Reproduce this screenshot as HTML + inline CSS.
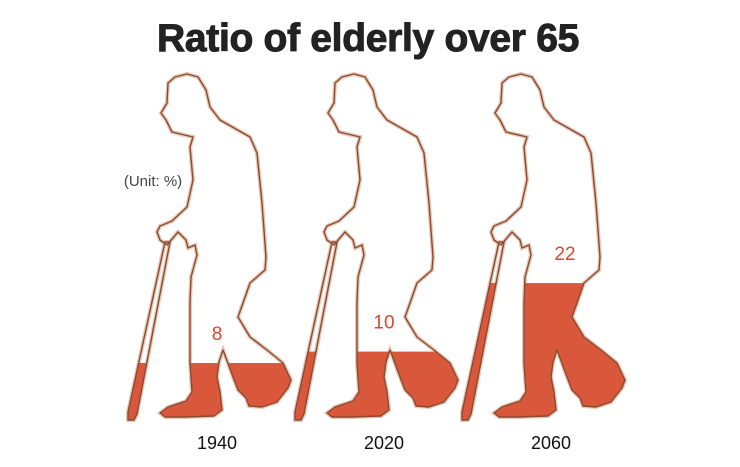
<!DOCTYPE html>
<html><head><meta charset="utf-8">
<style>
html,body{margin:0;padding:0;background:#fff;}
body{width:740px;height:462px;overflow:hidden;font-family:"Liberation Sans",sans-serif;}
</style></head>
<body>
<svg id="chart" width="740" height="462" viewBox="0 0 740 462">
<defs>
<path id="body" d="M168,83 L175,77 L187,74 L198,77 L206,90 L210,107 L220,120 L250,137 L257,153 L262,203 L266,257 L265,270 L250,283 L243,303 L238,317 L250,337 L267,350 L283,363 L291,380 L288,388 L277,402 L262,407 L249,406 L246,398 L238,390 L233,377 L226,358 L223,350 L219,362 L217,377 L220,392 L222,410 L214,416 L185,417 L165,417 L160,413 L168,407 L186,401 L192,392 L190,363 L190,303 L191,277 L197,255 L195,245 L188,248 L186,240 L178,232 L167,245 L160,240 L157,232 L160,226 L172,221 L187,207 L193,180 L190,147 L193,137 L172,132 L166,120 L161,113 L167,103 Z"/>
<path id="cane" d="M165,242 L170,242 L137,414 L134,420 L128,420 L128,412 Z"/>
</defs>
<text x="368" y="51" text-anchor="middle" font-size="39" font-weight="bold" fill="#222" stroke="#222" stroke-width="1" letter-spacing="-0.3">Ratio of elderly over 65</text>
<text x="153" y="186" text-anchor="middle" font-size="15" fill="#444">(Unit: %)</text>
<g id="figs"></g>
</svg>
<script>
const years = ['1940', '2020', '2060'];
const values = [8, 10, 22];

const svgNS = 'http://www.w3.org/2000/svg';
const g = document.getElementById('figs');
const baseY = 417;
function yScale(v){ return baseY - (8.3 + v * 5.71); }
function xOffset(i){ return i * 167; }

years.forEach((yr, i) => {
  const dx = xOffset(i);
  const fig = document.createElementNS(svgNS, 'g');
  fig.setAttribute('transform', 'translate(' + dx + ',0)');
  
  
  const cid = 'clip' + i;
  const cp = document.createElementNS(svgNS, 'clipPath');
  cp.setAttribute('id', cid);
  ['#body', '#cane'].forEach(h => {
    const u = document.createElementNS(svgNS, 'use');
    u.setAttribute('href', h);
    cp.appendChild(u);
  });
  fig.appendChild(cp);
  ['#body', '#cane'].forEach(h => {
    const u = document.createElementNS(svgNS, 'use');
    u.setAttribute('href', h);
    u.setAttribute('fill', '#fff');
    u.setAttribute('stroke', '#e8c8b8');
    u.setAttribute('stroke-width', '4');
    fig.appendChild(u);
  });
  const top = yScale(values[i]);
  const r = document.createElementNS(svgNS, 'rect');
  
  
  r.setAttribute('x', 100);
  r.setAttribute('y', top);
  r.setAttribute('width', 220);
  r.setAttribute('height', baseY + 10 - top);
  r.setAttribute('fill', '#d9573a');
  r.setAttribute('clip-path', 'url(#' + cid + ')');
  fig.appendChild(r);
  ['#body', '#cane'].forEach(h => {
    const u = document.createElementNS(svgNS, 'use');
    u.setAttribute('href', h);
    u.setAttribute('fill', 'none');
    u.setAttribute('stroke', '#8a4a30');
    u.setAttribute('stroke-width', '1.4');
    u.setAttribute('stroke-linejoin', 'round');
    
    
    fig.appendChild(u);
  });
  const vt = document.createElementNS(svgNS, 'text');
  
  
  vt.setAttribute('x', i === 2 ? 231 : 217);
  vt.setAttribute('y', top - 23);
  vt.setAttribute('text-anchor', 'middle');
  vt.setAttribute('font-size', '19');
  vt.setAttribute('fill', '#e0442e');
  vt.textContent = values[i];
  fig.appendChild(vt);
  const yt = document.createElementNS(svgNS, 'text');
  
  
  yt.setAttribute('x', 217);
  yt.setAttribute('y', 449);
  yt.setAttribute('text-anchor', 'middle');
  yt.setAttribute('font-size', '18');
  yt.setAttribute('fill', '#111');
  yt.textContent = yr;
  fig.appendChild(yt);
  g.appendChild(fig);
});
</script>
</body></html>
